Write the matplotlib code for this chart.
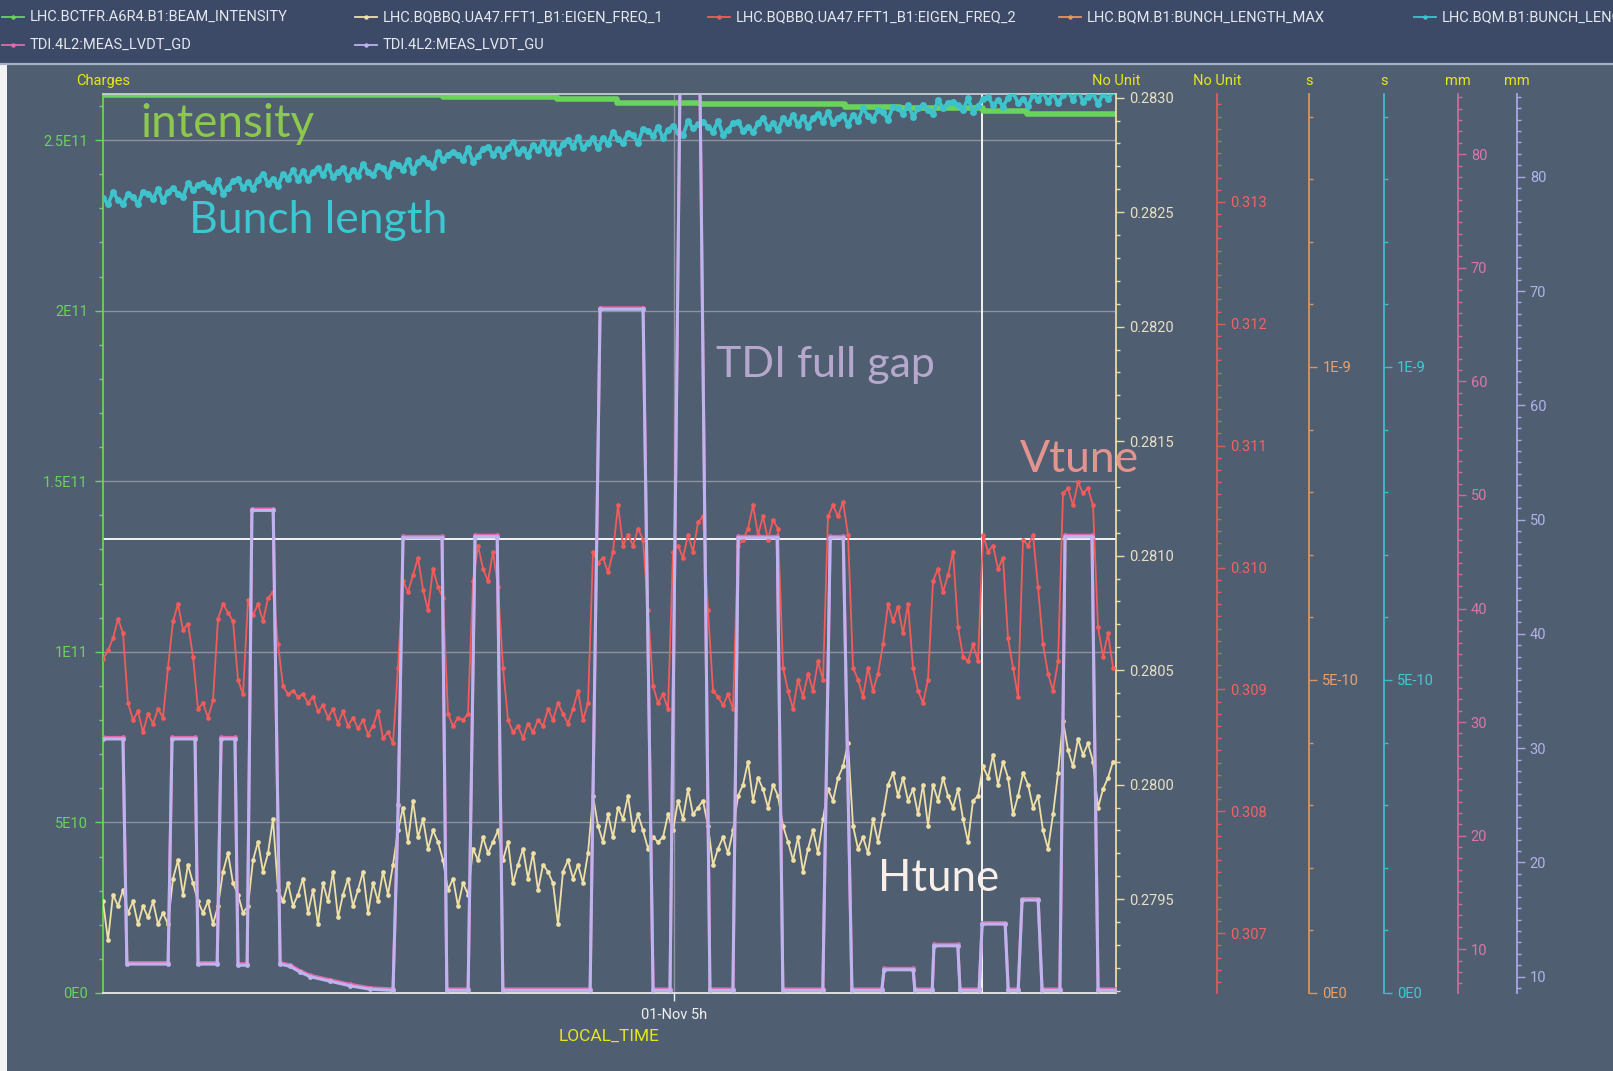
import numpy as np
import matplotlib.pyplot as plt
from matplotlib.lines import Line2D
from matplotlib.patches import Rectangle
from matplotlib.ticker import MultipleLocator, FuncFormatter

W, H = 1613, 1071
BG = '#505e71'
BAND = '#3c4967'
YELLOW = '#e6e61e'
SMALL = ['Roboto', 'DejaVu Sans']
BIG = ['Lato', 'DejaVu Sans']

# time axis: hours on 01-Nov, one logged sample every ~41 s
t_start, t_end = 3.685, 6.0183
t = t_start + np.arange(203) * 0.011517

# LHC.BCTFR.A6R4.B1:BEAM_INTENSITY (charges)
intensity_t = [3.685, 4.316, 4.468, 4.731, 4.869, 5.060, 5.394, 5.521, 5.712, 5.813, 6.018]
intensity = np.array([2.633, 2.631, 2.626, 2.619, 2.610, 2.605, 2.597, 2.594, 2.585, 2.577, 2.577]) * 1e11

# LHC.BQBBQ.UA47.FFT1_B1:EIGEN_FREQ_1 (horizontal tune)
htune = [
    0.27949, 0.27932, 0.27952, 0.27947, 0.27954, 0.27944, 0.27949, 0.27939, 0.27947, 0.27942,
    0.27949, 0.27939, 0.27944, 0.27939, 0.27959, 0.27967, 0.27952, 0.27965, 0.27957, 0.27949,
    0.27944, 0.27949, 0.27939, 0.27947, 0.27962, 0.27970, 0.27957, 0.27952, 0.27944, 0.27947,
    0.27967, 0.27975, 0.27962, 0.27970, 0.27985, 0.27954, 0.27949, 0.27957, 0.27947, 0.27952,
    0.27959, 0.27944, 0.27954, 0.27939, 0.27957, 0.27949, 0.27962, 0.27942, 0.27952, 0.27959,
    0.27947, 0.27954, 0.27962, 0.27944, 0.27957, 0.27949, 0.27962, 0.27952, 0.27965, 0.27980,
    0.27990, 0.27975, 0.27993, 0.27977, 0.27985, 0.27972, 0.27980, 0.27975, 0.27967, 0.27954,
    0.27959, 0.27947, 0.27957, 0.27952, 0.27972, 0.27967, 0.27977, 0.27970, 0.27975, 0.27980,
    0.27967, 0.27975, 0.27957, 0.27965, 0.27972, 0.27959, 0.27970, 0.27954, 0.27965, 0.27962,
    0.27957, 0.27939, 0.27962, 0.27967, 0.27959, 0.27965, 0.27957, 0.27970, 0.27995, 0.27982,
    0.27975, 0.27987, 0.27977, 0.27990, 0.27985, 0.27995, 0.27980, 0.27987, 0.27980, 0.27972,
    0.27977, 0.27975, 0.27977, 0.27987, 0.27980, 0.27993, 0.27985, 0.27998, 0.27987, 0.27990,
    0.27993, 0.27982, 0.27965, 0.27972, 0.27977, 0.27970, 0.27980, 0.27995, 0.28000, 0.28010,
    0.27993, 0.28003, 0.27998, 0.27990, 0.28000, 0.27995, 0.27982, 0.27975, 0.27967, 0.27977,
    0.27962, 0.27972, 0.27980, 0.27970, 0.27985, 0.27998, 0.27993, 0.28003, 0.28008, 0.28018,
    0.27982, 0.27972, 0.27977, 0.27970, 0.27985, 0.27975, 0.27987, 0.28000, 0.28005, 0.27995,
    0.28003, 0.27993, 0.27998, 0.27987, 0.28000, 0.27982, 0.28000, 0.27993, 0.28003, 0.27995,
    0.27990, 0.27998, 0.27985, 0.27975, 0.27993, 0.27995, 0.28008, 0.28003, 0.28013, 0.28000,
    0.28010, 0.28003, 0.27987, 0.27995, 0.28005, 0.28000, 0.27990, 0.27995, 0.27980, 0.27972,
    0.27987, 0.28005, 0.28028, 0.28015, 0.28008, 0.28020, 0.28013, 0.28018, 0.28010, 0.27990,
    0.27998, 0.28003, 0.28010,
]

# LHC.BQBBQ.UA47.FFT1_B1:EIGEN_FREQ_2 (vertical tune)
vtune = [
    0.30925, 0.30932, 0.30942, 0.30958, 0.30946, 0.30889, 0.30875, 0.30882, 0.30865, 0.30880,
    0.30872, 0.30884, 0.30877, 0.30918, 0.30956, 0.30970, 0.30949, 0.30954, 0.30927, 0.30884,
    0.30889, 0.30877, 0.30891, 0.30958, 0.30970, 0.30963, 0.30956, 0.30908, 0.30896, 0.30973,
    0.30961, 0.30970, 0.30956, 0.30975, 0.30980, 0.30937, 0.30903, 0.30896, 0.30899, 0.30894,
    0.30896, 0.30889, 0.30894, 0.30882, 0.30887, 0.30877, 0.30884, 0.30872, 0.30882, 0.30870,
    0.30877, 0.30868, 0.30875, 0.30863, 0.30870, 0.30882, 0.30860, 0.30865, 0.30856, 0.30918,
    0.30989, 0.30980, 0.30994, 0.31008, 0.30982, 0.30965, 0.30999, 0.30984, 0.30975, 0.30880,
    0.30870, 0.30877, 0.30875, 0.30880, 0.30989, 0.31018, 0.30999, 0.30989, 0.31013, 0.30984,
    0.30918, 0.30875, 0.30865, 0.30870, 0.30860, 0.30872, 0.30865, 0.30875, 0.30870, 0.30884,
    0.30875, 0.30889, 0.30880, 0.30872, 0.30884, 0.30899, 0.30875, 0.30889, 0.31013, 0.31004,
    0.31008, 0.30996, 0.31013, 0.31051, 0.31018, 0.31027, 0.31018, 0.31032, 0.31023, 0.30965,
    0.30903, 0.30889, 0.30896, 0.30884, 0.31013, 0.31018, 0.31008, 0.31027, 0.31013, 0.31037,
    0.31042, 0.30965, 0.30899, 0.30894, 0.30887, 0.30896, 0.30884, 0.31018, 0.31023, 0.31032,
    0.31051, 0.31027, 0.31042, 0.31023, 0.31039, 0.31032, 0.30918, 0.30899, 0.30884, 0.30908,
    0.30894, 0.30913, 0.30899, 0.30923, 0.30908, 0.31042, 0.31051, 0.31042, 0.31054, 0.31027,
    0.30918, 0.30908, 0.30894, 0.30918, 0.30899, 0.30913, 0.30937, 0.30970, 0.30956, 0.30968,
    0.30946, 0.30970, 0.30918, 0.30899, 0.30889, 0.30908, 0.30989, 0.30999, 0.30980, 0.30994,
    0.31013, 0.30951, 0.30927, 0.30923, 0.30937, 0.30923, 0.31027, 0.31013, 0.31018, 0.30999,
    0.31008, 0.30942, 0.30918, 0.30894, 0.31023, 0.31018, 0.31027, 0.30984, 0.30937, 0.30913,
    0.30899, 0.30923, 0.31061, 0.31065, 0.31051, 0.31070, 0.31061, 0.31065, 0.31051, 0.30951,
    0.30927, 0.30946, 0.30918,
]

# LHC.BQM.B1:BUNCH_LENGTH, in ns
bunch_length_ns = [
    1.270, 1.260, 1.279, 1.267, 1.261, 1.276, 1.272, 1.260, 1.280, 1.277,
    1.269, 1.284, 1.265, 1.280, 1.286, 1.277, 1.271, 1.294, 1.283, 1.290,
    1.294, 1.288, 1.281, 1.298, 1.277, 1.286, 1.297, 1.300, 1.286, 1.295,
    1.285, 1.299, 1.309, 1.293, 1.300, 1.289, 1.309, 1.301, 1.314, 1.299,
    1.313, 1.298, 1.311, 1.318, 1.306, 1.321, 1.303, 1.312, 1.317, 1.301,
    1.315, 1.305, 1.324, 1.312, 1.306, 1.321, 1.317, 1.305, 1.326, 1.323,
    1.315, 1.331, 1.312, 1.327, 1.333, 1.325, 1.319, 1.343, 1.331, 1.339,
    1.344, 1.338, 1.331, 1.349, 1.328, 1.337, 1.348, 1.352, 1.339, 1.348,
    1.337, 1.350, 1.359, 1.342, 1.348, 1.337, 1.355, 1.346, 1.359, 1.342,
    1.357, 1.342, 1.356, 1.363, 1.351, 1.367, 1.349, 1.358, 1.365, 1.349,
    1.366, 1.356, 1.376, 1.364, 1.358, 1.374, 1.370, 1.358, 1.380, 1.377,
    1.369, 1.384, 1.365, 1.379, 1.385, 1.376, 1.370, 1.393, 1.381, 1.388,
    1.391, 1.384, 1.376, 1.393, 1.371, 1.379, 1.389, 1.392, 1.377, 1.384,
    1.375, 1.389, 1.398, 1.382, 1.389, 1.378, 1.397, 1.389, 1.402, 1.386,
    1.399, 1.384, 1.397, 1.404, 1.392, 1.407, 1.389, 1.398, 1.403, 1.387,
    1.403, 1.393, 1.413, 1.401, 1.395, 1.411, 1.407, 1.395, 1.416, 1.413,
    1.404, 1.419, 1.400, 1.413, 1.419, 1.410, 1.404, 1.426, 1.414, 1.421,
    1.424, 1.418, 1.411, 1.429, 1.408, 1.417, 1.428, 1.432, 1.418, 1.427,
    1.416, 1.430, 1.438, 1.422, 1.428, 1.417, 1.435, 1.427, 1.439, 1.423,
    1.437, 1.421, 1.434, 1.440, 1.427, 1.442, 1.424, 1.432, 1.437, 1.420,
    1.436, 1.428, 1.440,
]

# TDI.4L2 jaw positions (mm), logged on change
tdi_t = [3.685, 3.731, 3.740, 3.835, 3.844, 3.897, 3.904, 3.948, 3.957, 3.989,
         3.996, 4.017, 4.028, 4.077, 4.093, 4.116, 4.139, 4.162, 4.208, 4.254,
         4.300, 4.353, 4.365, 4.376, 4.466, 4.477, 4.526, 4.542, 4.593, 4.606,
         4.807, 4.830, 4.929, 4.952, 4.991, 5.016, 5.058, 5.083, 5.136, 5.148,
         5.238, 5.251, 5.343, 5.360, 5.390, 5.410, 5.479, 5.484, 5.551, 5.555,
         5.595, 5.599, 5.654, 5.659, 5.703, 5.710, 5.763, 5.770, 5.793, 5.802,
         5.839, 5.848, 5.889, 5.901, 5.963, 5.977, 6.018]
tdi_gu = [30.8, 30.8, 11.1, 11.1, 30.8, 30.8, 11.1, 11.1, 30.8, 30.8,
          11.0, 11.0, 50.8, 50.8, 11.1, 10.9, 10.4, 10.0, 9.6, 9.2,
          8.9, 8.8, 25.0, 48.4, 48.4, 8.8, 8.8, 48.5, 48.5, 8.8,
          8.8, 68.4, 68.4, 8.8, 8.8, 95.0, 95.0, 8.8, 8.8, 48.4,
          48.4, 8.8, 8.8, 48.4, 48.4, 8.8, 8.8, 10.6, 10.6, 8.8,
          8.8, 12.7, 12.7, 8.8, 8.8, 14.6, 14.6, 8.8, 8.8, 16.7,
          16.7, 8.8, 8.8, 48.5, 48.5, 8.8, 8.8]
tdi_gd = [28.65, 28.65, 8.83, 8.83, 28.65, 28.65, 8.83, 8.83, 28.65, 28.65,
          8.73, 8.73, 48.76, 48.76, 8.83, 8.63, 8.12, 7.72, 7.32, 6.92,
          6.61, 6.51, 22.81, 46.35, 46.35, 6.51, 6.51, 46.45, 46.45, 6.51,
          6.51, 66.47, 66.47, 6.51, 6.51, 93.2, 93.2, 6.51, 6.51, 46.35,
          46.35, 6.51, 6.51, 46.35, 46.35, 6.51, 6.51, 8.32, 8.32, 6.51,
          6.51, 10.44, 10.44, 6.51, 6.51, 12.35, 12.35, 6.51, 6.51, 14.46,
          14.46, 6.51, 6.51, 46.45, 46.45, 6.51, 6.51]

# cursor position
cursor_t, cursor_charge = 5.7106, 1.3295e11

C_GREEN, C_YEL, C_RED = '#6ad35c', '#efe0a6', '#f25c5a'
C_ORA, C_CYAN, C_PINK, C_LAV = '#e8965a', '#3ec3cc', '#e06aa8', '#bdb4ef'


def fx(px):
    return px / W


def fy(py):
    return 1 - py / H


def sci(v, pos=None):
    if abs(v) < 1e-30:
        return '0E0'
    e = int(np.floor(np.log10(abs(v)) + 1e-9))
    return f'{v / 10 ** e:g}E{e}'


fig = plt.figure(figsize=(W / 100, H / 100), dpi=100, facecolor=BG)
fig.patches.append(Rectangle((0, fy(63)), 1, 63 / H, transform=fig.transFigure,
                             facecolor=BAND, edgecolor='none', zorder=0))
fig.patches.append(Rectangle((0, 0), 7 / W, fy(63), transform=fig.transFigure,
                             facecolor='#f4f4f4', edgecolor='none', zorder=0))
fig.add_artist(Line2D([0, 1], [fy(63.5)] * 2, color='#a4b1c8', lw=1.6))

x0, x1, y0, y1 = 103, 1116, 94, 993
ax = fig.add_axes([fx(x0), fy(y1), (x1 - x0) / W, (y1 - y0) / H], facecolor=BG)
ax.set_xlim(t_start, t_end)
ax.set_ylim(0, 2.635e11)
ax.yaxis.set_major_locator(MultipleLocator(5e10))
ax.yaxis.set_minor_locator(MultipleLocator(1e10))
ax.yaxis.set_major_formatter(FuncFormatter(sci))
ax.set_xticks([5.0])
ax.set_xticklabels(['01-Nov 5h'])
ax.grid(True, color='#8e929e', lw=1.0)
ax.set_axisbelow(True)
for s in ax.spines.values():
    s.set_linewidth(1.3)
ax.spines['left'].set_color(C_GREEN)
ax.spines['bottom'].set_color('#e8e8e8')
ax.spines['top'].set_color('#c8cbd2')
ax.spines['right'].set_visible(False)
ax.tick_params(axis='y', which='both', colors=C_GREEN, direction='out')
ax.tick_params(axis='y', which='major', length=5.8, width=1, pad=5, labelsize=10.5)
ax.tick_params(axis='y', which='minor', length=3.2, width=1)
ax.tick_params(axis='x', colors='#f0f0f0', length=5.8, width=1, pad=5, labelsize=10.5)
for lab in ax.get_xticklabels() + ax.get_yticklabels():
    lab.set_fontfamily(SMALL)
ax.set_xlabel('LOCAL_TIME', color=YELLOW, fontsize=12.5, fontfamily=SMALL, labelpad=5)

ax.axhline(cursor_charge, color='#f4f4f4', lw=1.4, zorder=1.5)
ax.axvline(cursor_t, color='#f4f4f4', lw=1.4, zorder=1.5)
ax.plot(intensity_t, intensity, color=C_GREEN, lw=4, drawstyle='steps-post',
        solid_capstyle='butt', zorder=2)
fig.text(fx(x0), fy(80.7), 'Charges', color=YELLOW, ha='center', va='center',
         fontsize=10.5, fontfamily=SMALL)


def right_axis(px, color, lab_color, lim, major, minor, fmt, unit):
    a = ax.twinx()
    a.set_ylim(*lim)
    for s in ('left', 'top', 'bottom'):
        a.spines[s].set_visible(False)
    a.spines['right'].set_position(('axes', (px - x0) / (x1 - x0)))
    a.spines['right'].set_color(color)
    a.spines['right'].set_linewidth(1.3)
    a.yaxis.set_major_locator(MultipleLocator(major))
    a.yaxis.set_minor_locator(MultipleLocator(minor))
    a.yaxis.set_major_formatter(FuncFormatter(fmt))
    a.tick_params(axis='y', which='both', colors=color, labelcolor=lab_color, direction='out')
    a.tick_params(axis='y', which='major', length=5.8, width=1, pad=3.6, labelsize=10.5)
    a.tick_params(axis='y', which='minor', length=3.2, width=1)
    for lab in a.get_yticklabels():
        lab.set_fontfamily(SMALL)
    fig.text(fx(px), fy(80.7), unit, color=YELLOW, ha='center', va='center',
             fontsize=10.5, fontfamily=SMALL)
    return a


ax_h = right_axis(1116, '#e9dca6', '#e8e0c4', (0.27909, 0.283016), 0.0005, 0.0001,
                  lambda v, p: f'{v:.4f}', 'No Unit')
ax_v = right_axis(1216.7, '#e05a5a', '#ee6464', (0.30651, 0.313885), 0.001, 0.0001,
                  lambda v, p: f'{v:.3f}', 'No Unit')
ax_bm = right_axis(1309.3, '#e09256', '#eca068', (0, 1.436e-9), 5e-10, 1e-10, sci, 's')
ax_bl = right_axis(1383.7, '#3cbccb', '#44c8d2', (0, 1.436e-9), 5e-10, 1e-10, sci, 's')
ax_gd = right_axis(1457.7, '#d0689e', '#d878aa', (6.15, 85.3), 10, 1,
                   lambda v, p: f'{v:.0f}', 'mm')
ax_gu = right_axis(1516.7, '#a8a8e6', '#b2b2ea', (8.57, 87.24), 10, 1,
                   lambda v, p: f'{v:.0f}', 'mm')

mk = dict(marker='o', markersize=3.4, markeredgewidth=0, lw=1.3)
ax_h.plot(t, htune, color=C_YEL, **mk)
ax_v.plot(t, vtune, color=C_RED, **mk)
ax_bl.plot(t, np.array(bunch_length_ns) * 1e-9, color=C_CYAN, marker='o',
           markersize=5, markeredgewidth=0, lw=2.6)
ax_gd.plot(tdi_t, tdi_gd, color=C_PINK, marker='o', markersize=3.5, markeredgewidth=0, lw=2.2)
ax_gu.plot(tdi_t, tdi_gu, color=C_LAV, marker='o', markersize=3.5, markeredgewidth=0, lw=2.2)

# legend strip
legend = [
    ('LHC.BCTFR.A6R4.B1:BEAM_INTENSITY', C_GREEN, 2, 17),
    ('LHC.BQBBQ.UA47.FFT1_B1:EIGEN_FREQ_1', C_YEL, 355, 17),
    ('LHC.BQBBQ.UA47.FFT1_B1:EIGEN_FREQ_2', C_RED, 708, 17),
    ('LHC.BQM.B1:BUNCH_LENGTH_MAX', C_ORA, 1059, 17),
    ('LHC.BQM.B1:BUNCH_LENGTH', C_CYAN, 1414, 17),
    ('TDI.4L2:MEAS_LVDT_GD', C_PINK, 2, 45.3),
    ('TDI.4L2:MEAS_LVDT_GU', C_LAV, 355, 45.3),
]
for name, col, lx, ly in legend:
    fig.add_artist(Line2D([fx(lx), fx(lx + 22)], [fy(ly)] * 2, color=col, lw=1.3))
    fig.add_artist(Line2D([fx(lx + 11)], [fy(ly)], color=col, marker='o',
                          markersize=3.2, markeredgewidth=0))
    fig.text(fx(lx + 27.5), fy(ly), name, color='#e4e8ee', ha='left', va='center',
             fontsize=10.5, fontfamily=SMALL)

# annotations
notes = [
    ('intensity', '#8cc84c', 140, 136.7, 33),
    ('Bunch length', '#3cc8d2', 189.3, 232.7, 32),
    ('TDI full gap', '#b6a8cc', 716, 376.5, 31),
    ('Vtune', '#e4948e', 1020, 472, 32),
    ('Htune', '#f8f0e8', 878, 890.7, 31.5),
]
for txt, col, px, py, size in notes:
    fig.text(fx(px), fy(py), txt, color=col, fontsize=size, fontfamily=BIG,
             ha='left', va='baseline', zorder=5)

fig.savefig('out.png', dpi=100, facecolor=BG)
